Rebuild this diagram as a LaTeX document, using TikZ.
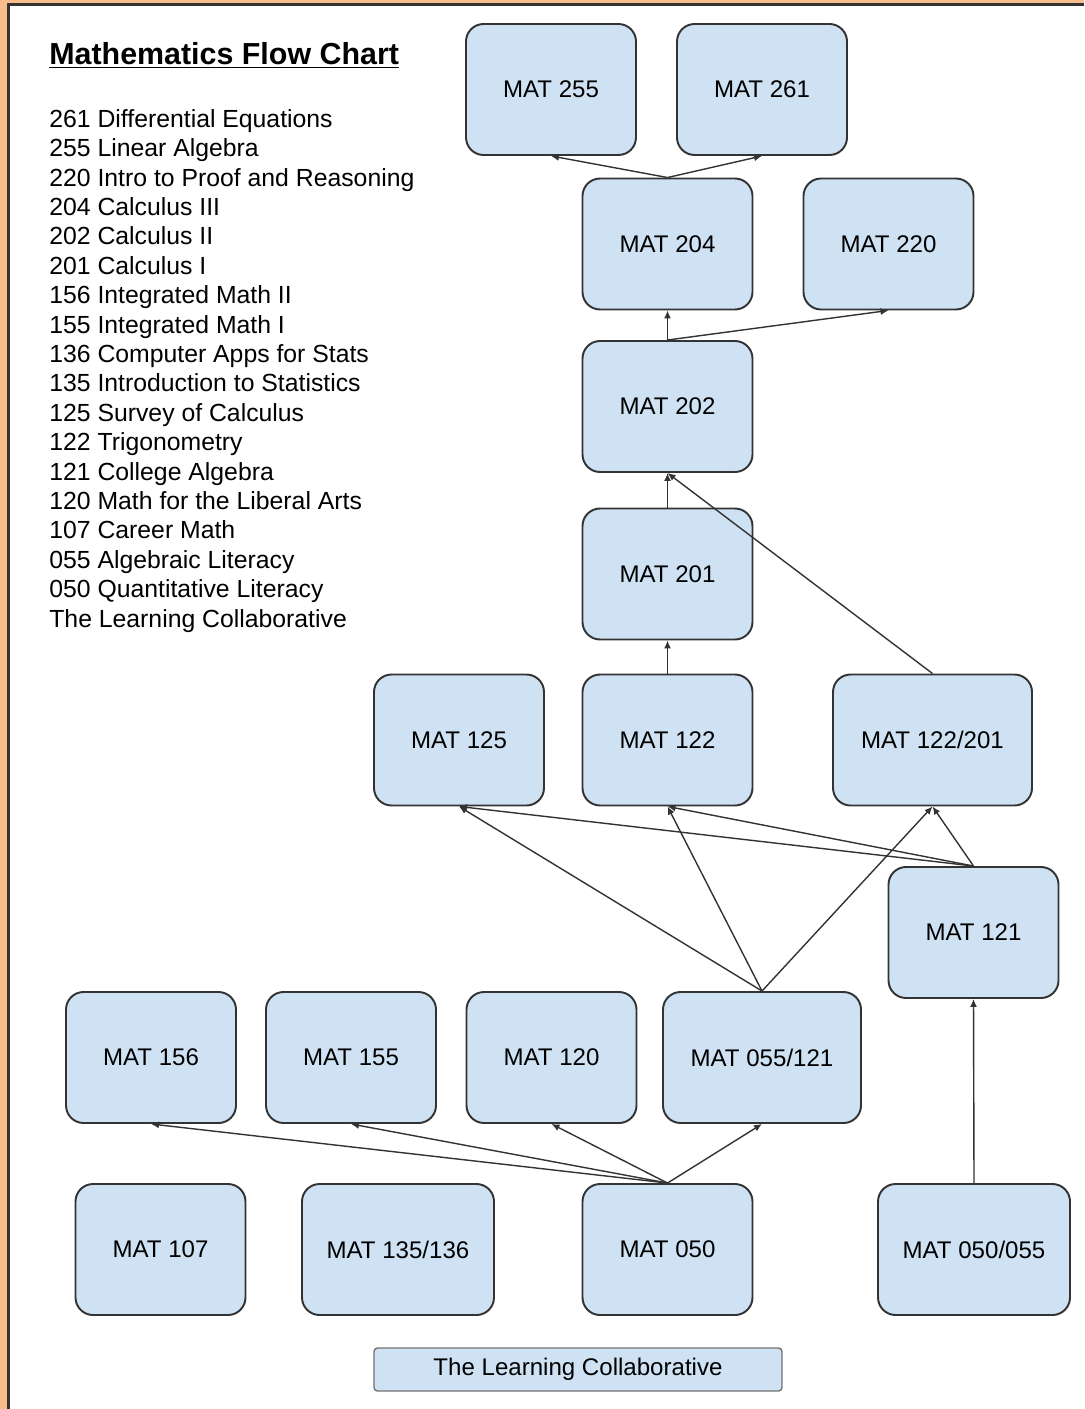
\documentclass[tikz,border=0pt]{standalone}
\usepackage{fontspec}
\setmainfont{Liberation Sans}
\usepackage{xcolor}
\usepackage{tikz}
\usetikzlibrary{
    arrows.meta,
    positioning
}
\definecolor{framepeach}{RGB}{248,189,138}
\definecolor{boxblue}{RGB}{207,226,243}

\begin{document}
\begin{tikzpicture}[
            font=\fontsize{13.7}{16}\selectfont,
            >=Latex,
            course/.style={draw=black!80, line width=1.1pt, rounded corners=10pt, fill=boxblue,
                           align=center, minimum width=3.4cm, minimum height=2.62cm},
            widecourse/.style={course, minimum width=3.9cm},
            base/.style={draw=black!55, line width=0.8pt, rounded corners=2pt, fill=boxblue,
                         minimum width=8.16cm, minimum height=0.86cm},
            legend/.style={align=left, inner sep=0pt, anchor=north west,
                           font=\fontsize{14.1}{16.73}\selectfont},
            arr/.style={-{Latex[length=1.6mm, width=1.4mm]}, line width=0.8pt, black!80}
        ]
            % page and frame
            \useasboundingbox (0, 0) rectangle (21.68, -28.18);
            \fill[framepeach] (0, 0) rectangle (21.68, -28.18);
            \fill[white] (0.17, -0.09) rectangle (21.68, -28.18);
            \draw[black!80, line width=1.2pt] (0.17, -28.18) -- (0.17, -0.09) -- (21.68, -0.09);

            % legend
            \node[anchor=base west, inner sep=0pt, font=\fontsize{17.3}{20}\selectfont\bfseries]
                (title) at (0.98, -1.30) {\underline{Mathematics Flow Chart}};
            \node[legend] (list) at (0.98, -2.18)
                {261 Differential Equations\\
                 255 Linear Algebra\\
                 220 Intro to Proof and Reasoning\\
                 204 Calculus III\\
                 202 Calculus II\\
                 201 Calculus I\\
                 156 Integrated Math II\\
                 155 Integrated Math I\\
                 136 Computer Apps for Stats\\
                 135 Introduction to Statistics\\
                 125 Survey of Calculus\\
                 122 Trigonometry\\
                 121 College Algebra\\
                 120 Math for the Liberal Arts\\
                 107 Career Math\\
                 055 Algebraic Literacy\\
                 050 Quantitative Literacy\\
                 The Learning Collaborative};

            % courses
            \node[course] (m255) at (11.02, -1.79) {MAT 255};
            \node[course] (m261) at (15.24, -1.79) {MAT 261};
            \node[course] (m204) at (13.35, -4.88) {MAT 204};
            \node[course] (m220) at (17.77, -4.88) {MAT 220};
            \node[course] (m202) at (13.35, -8.13) {MAT 202};
            \node[course] (m201) at (13.35, -11.48) {MAT 201};
            \node[course] (m125) at (9.18, -14.80) {MAT 125};
            \node[course] (m122) at (13.35, -14.80) {MAT 122};
            \node[widecourse, minimum width=3.98cm] (m122x201) at (18.65, -14.80) {MAT 122/201};
            \node[course] (m121) at (19.47, -18.65) {MAT 121};
            \node[course] (m156) at (3.02, -21.15) {MAT 156};
            \node[course] (m155) at (7.02, -21.15) {MAT 155};
            \node[course] (m120) at (11.03, -21.15) {MAT 120};
            \node[widecourse, minimum width=3.96cm] (m055x121) at (15.24, -21.15) {MAT 055/121};
            \node[course] (m107) at (3.21, -24.99) {MAT 107};
            \node[widecourse, minimum width=3.84cm] (m135x136) at (7.96, -24.99) {MAT 135/136};
            \node[course] (m050) at (13.35, -24.99) {MAT 050};
            \node[widecourse, minimum width=3.84cm] (m050x055) at (19.48, -24.99) {MAT 050/055};
            \node[base] (tlc) at (11.56, -27.39) {The Learning Collaborative};

            % prerequisites
            \draw[arr] (m204.north) -- (m255.south);
            \draw[arr] (m204.north) -- (m261.south);
            \draw[arr] (m202.north) -- (m204.south);
            \draw[arr] (m202.north) -- (m220.south);
            \draw[arr] (m201.north) -- (m202.south);
            \draw[arr] (m122x201.north) -- (m202.south);
            \draw[arr] (m122.north) -- (m201.south);
            \draw[arr] (m055x121.north) -- (m125.south);
            \draw[arr] (m055x121.north) -- (m122.south);
            \draw[arr] (m055x121.north) -- (m122x201.south);
            \draw[arr] (m121.north) -- (m125.south);
            \draw[arr] (m121.north) -- (m122.south);
            \draw[arr] (m121.north) -- (m122x201.south);
            \draw[arr] (m050.north) -- (m156.south);
            \draw[arr] (m050.north) -- (m155.south);
            \draw[arr] (m050.north) -- (m120.south);
            \draw[arr] (m050.north) -- (m055x121.south);
            \draw[arr] (m050x055.north) -- (m121.south);
        \end{tikzpicture}
\end{document}
